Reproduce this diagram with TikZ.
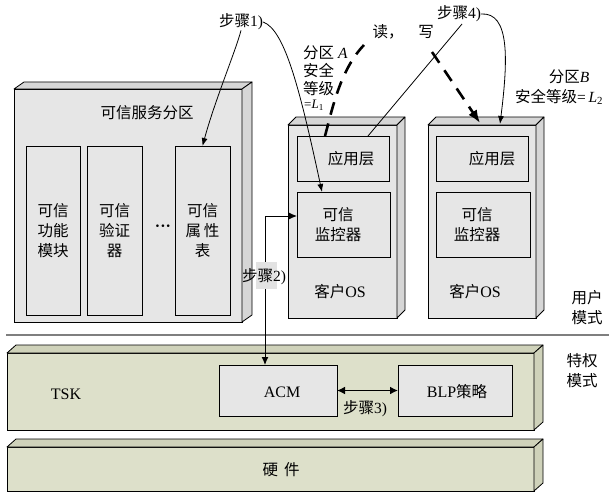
\documentclass[tikz,border=0pt]{standalone}
\usepackage{fontspec}
\setmainfont{Liberation Serif}
\newfontfamily\cjk{Noto Sans CJK SC}
\usetikzlibrary{calc,arrows.meta}
\definecolor{frontgray}{HTML}{E6E6E6}
\definecolor{sidegray}{HTML}{D6D6D6}
\definecolor{tskfill}{HTML}{DDE0CA}
\definecolor{tskside}{HTML}{CFD2BA}
\definecolor{labelgray}{HTML}{E2E2E2}
\definecolor{sepgray}{HTML}{7F7F7F}
\tikzset{
  face/.style={draw=black, line width=0.8pt, line join=round},
  frontbox/.style={draw=black, line width=0.9pt, inner sep=0pt, outer sep=0pt, anchor=north west},
  zh/.style={inner sep=0pt, font=\cjk\fontsize{15.5}{20}\selectfont, align=center},
  txt/.style={inner sep=0pt, font=\fontsize{16}{19}\selectfont},
  steplbl/.style={inner sep=0pt, font=\fontsize{15.5}{18}\selectfont},
  conn/.style={line width=0.8pt, -{Latex[length=8pt,width=6pt]}},
  rwline/.style={line width=2.6pt, dash pattern=on 13pt off 9pt},
}
\newcommand\threedfaces[4]{%
  \filldraw[face, fill=#4] (#1.north west) -- ++(#2,#3) -- ($(#1.north east)+(#2,#3)$) -- (#1.north east) -- cycle;
  \filldraw[face, fill=#4] (#1.north east) -- ++(#2,#3) -- ($(#1.south east)+(#2,#3)$) -- (#1.south east) -- cycle;}
\begin{document}
\begin{tikzpicture}[x=1pt, y=-1pt]
\useasboundingbox (0,0) rectangle (609,492);

% trusted service partition
\node[frontbox, fill=frontgray, minimum width=228pt, minimum height=233pt] (tsp) at (14,89) {};
\threedfaces{tsp}{10}{-7}{sidegray}
\node[frontbox, fill=frontgray, minimum width=54pt, minimum height=169pt] (c1) at (26,146) {};
\node[frontbox, fill=frontgray, minimum width=55pt, minimum height=169pt] (c2) at (87,146) {};
\node[frontbox, fill=frontgray, minimum width=55pt, minimum height=169pt] (c3) at (175,146) {};
\node[zh] (tsptitle) at (147,113) {可信服务分区};
\node[zh] (c1t) at (c1.center) {可信\\功能\\模块};
\node[zh] (c2t) at (c2.center) {可信\\验证\\器};
\node[zh] (c3t) at (c3.center) {可信\\属\,性\\表};
\node[inner sep=0pt, font=\bfseries\fontsize{16}{18}\selectfont] (dots) at (163,228) {···};

% guest OS A
\node[frontbox, fill=frontgray, minimum width=109pt, minimum height=193pt] (osA) at (288,125) {};
\threedfaces{osA}{8}{-8}{sidegray}
\node[frontbox, fill=frontgray, minimum width=92pt, minimum height=45pt] (appA) at (297,136) {};
\node[frontbox, fill=frontgray, minimum width=93pt, minimum height=65pt] (monA) at (297,192) {};
\node[zh] (appAt) at (351,159) {应用层};
\node[zh] (monAt) at (338,225) {可信\\监控器};
\node[txt] (osAt) at (340,292) {{\cjk\fontsize{15.5}{18}\selectfont 客户}OS};

% guest OS B
\node[frontbox, fill=frontgray, minimum width=108pt, minimum height=193pt] (osB) at (428,125) {};
\threedfaces{osB}{8}{-8}{sidegray}
\node[frontbox, fill=frontgray, minimum width=92pt, minimum height=45pt] (appB) at (436,136) {};
\node[frontbox, fill=frontgray, minimum width=94pt, minimum height=65pt] (monB) at (436,192) {};
\node[zh] (appBt) at (492,159) {应用层};
\node[zh] (monBt) at (477,225) {可信\\监控器};
\node[txt] (osBt) at (475,292) {{\cjk\fontsize{15.5}{18}\selectfont 客户}OS};

\node[zh] (umode) at (587,308) {用户\\模式};

% separator
\coordinate (sepL) at (6,335);
\coordinate (sepR) at (609,335);
\draw[line width=2.5pt, sepgray] (sepL) -- (sepR);

% TSK
\node[frontbox, fill=tskfill, minimum width=527pt, minimum height=77pt] (tsk) at (7,353) {};
\threedfaces{tsk}{9}{-8}{tskside}
\node[frontbox, fill=frontgray, minimum width=118pt, minimum height=51pt] (acm) at (219,365) {};
\node[frontbox, fill=frontgray, minimum width=114pt, minimum height=51pt] (blp) at (398,365) {};
\node[txt] (tskt) at (66,394) {TSK};
\node[txt] (acmt) at (282,392) {ACM};
\node[txt] (blpt) at (457,392) {BLP{\cjk\fontsize{15.5}{18}\selectfont 策略}};
\node[zh] (pmode) at (582,371) {特权\\模式};
\draw[line width=1.8pt, {Latex[length=8pt,width=8pt]}-{Latex[length=8pt,width=8pt]}] (acm.east) -- (blp.west);
\node[steplbl] (s3) at (365,409) {{\cjk 步骤}3)};

% hardware
\node[frontbox, fill=tskfill, minimum width=527pt, minimum height=44pt] (hw) at (7,447) {};
\threedfaces{hw}{9}{-8}{tskside}
\node[zh] (hwt) at (281,470) {硬\hspace{6pt}件};

% step 2
\coordinate (s2) at (265,216);
\draw[line width=1pt, {Latex[length=8pt,width=7pt]}-{Latex[length=8pt,width=7pt]}] (monA.west |- s2) -- (s2) -- (s2 |- acm.north);
\fill[labelgray] (256,262) rectangle (277,289);
\node[steplbl] (s2l) at (264,277) {{\cjk 步骤}2)};

% step 1
\node[steplbl] (s1) at (241,22) {{\cjk 步骤}1)};
\draw[conn] (s1.south) .. controls (236,50) and (215,100) .. (c3.north);
\draw[conn] (s1.east) .. controls (285,30) and (300,90) .. ($(monA.north west)+(25,0)$);

% partition labels
\node[anchor=west, inner sep=0pt, font=\fontsize{15.5}{18}\selectfont] (pA1) at (303,53) {{\cjk 分区} \textit{A}};
\node[anchor=west, zh] (pA2) at (303,71) {安全};
\node[anchor=west, zh] (pA3) at (303,89) {等级};
\node[anchor=west, inner sep=0pt, font=\fontsize{13}{15}\selectfont] (pA4) at (304,105) {=\textit{L}\textsubscript{1}};
\node[inner sep=0pt, font=\fontsize{15.5}{18}\selectfont] (pB1) at (569,77) {{\cjk 分区}\textit{B}};
\node[anchor=west, inner sep=0pt, font=\fontsize{15.5}{18}\selectfont] (pB2) at (515,97) {{\cjk 安全等级}=\,\textit{L}\textsubscript{2}};

% read / write
\node[zh] (rd) at (388,32) {读，};
\node[zh] (wr) at (426,32) {写};
\coordinate (rdtop) at (364,45);
\coordinate (wrtop) at (432,52);
\draw[rwline] ($(appA.north west)+(28,0)$) .. controls (332,110) and (340,70) .. (rdtop);
\draw[rwline, -{Latex[length=13pt,width=10pt]}] (wrtop) -- ($(osB.north west)+(52,-2)$);

% step 4
\node[steplbl] (s4) at (459,14) {{\cjk 步骤}4)};
\coordinate (s4foot) at (462,24);
\draw[line width=0.8pt] ($(appA.north west)+(71,0)$) -- (s4foot);
\draw[conn] (s4.east) .. controls (510,12) and (508,60) .. ($(osB.north west)+(72,-1)$);
\end{tikzpicture}
\end{document}
